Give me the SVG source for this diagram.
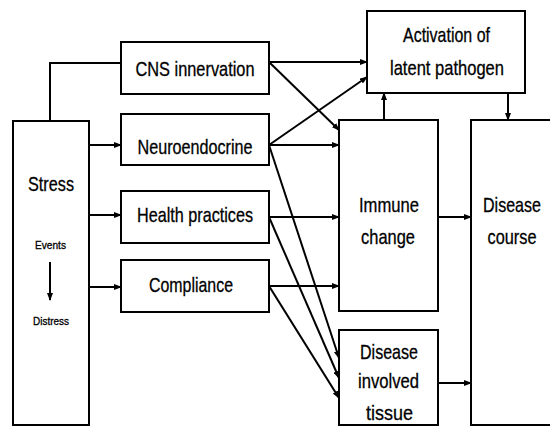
<svg xmlns="http://www.w3.org/2000/svg" width="550" height="427" viewBox="0 0 550 427">
<defs>
<marker id="ah" markerUnits="userSpaceOnUse" markerWidth="8" markerHeight="6" refX="7" refY="3" orient="auto">
<path d="M0,0 L8,3 L0,6 Z" fill="#000"/>
</marker>
<style>
.box{fill:#fff;stroke:#000;stroke-width:2}
.t{font-family:"Liberation Sans",Arial,sans-serif;font-size:21px;fill:#000;stroke:#000;stroke-width:0.3;text-anchor:middle}
.s{font-family:"Liberation Sans",Arial,sans-serif;font-size:11px;fill:#000;stroke:#000;stroke-width:0.3;text-anchor:middle}
.c{fill:none;stroke:#000;stroke-width:2}
.a{marker-end:url(#ah)}
</style>
</defs>
<rect width="550" height="427" fill="#fff"/>
<g id="connectors">
<path class="c" d="M50,121 V63 H121"/>
<path class="c a" d="M89,145 H121"/>
<path class="c a" d="M89,215 H121"/>
<path class="c a" d="M89,287 H121"/>
<path class="c a" d="M269,62 H367"/>
<path class="c a" d="M269,62 L339,130"/>
<path class="c a" d="M269,145 L367,77"/>
<path class="c a" d="M269,145 H339"/>
<path class="c a" d="M269,145 L339,358"/>
<path class="c a" d="M269,217 H339"/>
<path class="c a" d="M269,217 L339,378"/>
<path class="c a" d="M269,286 H339"/>
<path class="c a" d="M269,286 L339,398"/>
<path class="c a" d="M384,120 V93"/>
<path class="c a" d="M508,93 V120"/>
<path class="c a" d="M438,217 H471"/>
<path class="c a" d="M438,383 H471"/>
</g>
<g id="stress">
<rect class="box" x="13" y="121" width="76" height="304"/>
<text class="t" x="51" y="191" textLength="46" lengthAdjust="spacingAndGlyphs">Stress</text>
<text class="s" x="50.5" y="249" textLength="31" lengthAdjust="spacingAndGlyphs">Events</text>
<path class="c" d="M50,262 V300" stroke-width="1.5" marker-end="url(#ah)"/>
<text class="s" x="51" y="325" textLength="36" lengthAdjust="spacingAndGlyphs">Distress</text>
</g>
<g id="cns">
<rect class="box" x="121" y="42" width="148" height="52"/>
<text class="t" x="195" y="76" textLength="119" lengthAdjust="spacingAndGlyphs">CNS innervation</text>
</g>
<g id="neuroendocrine">
<rect class="box" x="121" y="114" width="148" height="51"/>
<text class="t" x="195" y="154" textLength="115" lengthAdjust="spacingAndGlyphs">Neuroendocrine</text>
</g>
<g id="health">
<rect class="box" x="121" y="191" width="148" height="52"/>
<text class="t" x="195" y="222" textLength="116" lengthAdjust="spacingAndGlyphs">Health practices</text>
</g>
<g id="compliance">
<rect class="box" x="121" y="260" width="148" height="52"/>
<text class="t" x="191" y="292" textLength="84" lengthAdjust="spacingAndGlyphs">Compliance</text>
</g>
<g id="activation">
<rect class="box" x="367" y="11" width="158" height="82"/>
<text class="t" x="446.5" y="42" textLength="87" lengthAdjust="spacingAndGlyphs">Activation of</text>
<text class="t" x="447" y="75" textLength="114" lengthAdjust="spacingAndGlyphs">latent pathogen</text>
</g>
<g id="immune">
<rect class="box" x="339" y="120" width="99" height="191"/>
<text class="t" x="389" y="212" textLength="60" lengthAdjust="spacingAndGlyphs">Immune</text>
<text class="t" x="388" y="244" textLength="54" lengthAdjust="spacingAndGlyphs">change</text>
</g>
<g id="tissue">
<rect class="box" x="339" y="330" width="99" height="95"/>
<text class="t" x="389" y="359" textLength="58" lengthAdjust="spacingAndGlyphs">Disease</text>
<text class="t" x="388.5" y="388" textLength="61" lengthAdjust="spacingAndGlyphs">involved</text>
<text class="t" x="389.5" y="420" textLength="47" lengthAdjust="spacingAndGlyphs">tissue</text>
</g>
<g id="course">
<rect class="box" x="471" y="120" width="90" height="305"/>
<text class="t" x="512" y="212" textLength="58" lengthAdjust="spacingAndGlyphs">Disease</text>
<text class="t" x="512" y="244" textLength="49" lengthAdjust="spacingAndGlyphs">course</text>
</g>
</svg>
